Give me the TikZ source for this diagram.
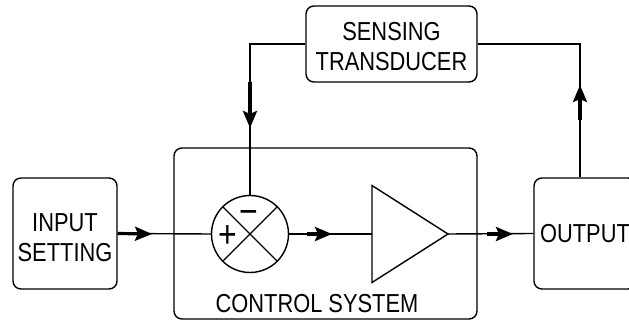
\documentclass[tikz,border=0pt]{standalone}
\usepackage{fontspec}
\setmainfont[FakeStretch=0.84]{Liberation Sans}
\usetikzlibrary{arrows.meta,positioning,shapes.geometric}
\newcommand{\blockfont}{\fontsize{13}{15}\selectfont}
\newcommand{\signfont}{\fontsize{19}{19}\selectfont}
\tikzset{
  wire/.style={line width=0.7pt},
  blockbox/.style={draw, line width=0.7pt, rounded corners=4pt, align=center, inner sep=0pt, font=\blockfont},
  sumnode/.style={draw, circle, line width=0.7pt, minimum size=38.5pt, inner sep=0pt},
  ampnode/.style={draw, isosceles triangle, isosceles triangle stretches, line width=0.7pt,
               minimum width=48.5pt, minimum height=38pt, inner sep=0pt, outer sep=0pt},
  flowtip/.style={-{Stealth[length=8.5pt,width=7pt,inset=1.5pt]}, line width=1.6pt},
  sign/.style={font=\signfont, inner sep=0pt, anchor=base},
  caption/.style={font=\blockfont, inner sep=0pt},
}
\def\yM{234}
\def\yF{44}
\begin{document}
\begin{tikzpicture}[x=0.5pt,y=-0.5pt]
  \useasboundingbox (0,0) rectangle (629,321);
  \node[blockbox, minimum width=52pt, minimum height=55.5pt, text height=28.3pt] (input) at (65,233.5) {INPUT\\SETTING};
  \node[blockbox, minimum width=151.5pt, minimum height=85.5pt] (ctrl) at (325.5,233.5) {};
  \node[blockbox, minimum width=85.5pt, minimum height=38pt, text height=26.8pt] (sense) at (391.5,\yF) {SENSING\\TRANSDUCER};
  \node[blockbox, minimum width=51pt, minimum height=55.5pt] (output) at (585,233.5) {OUTPUT};
  \node[sumnode] (sum) at (250,\yM) {};
  \node[ampnode, anchor=apex] (amp) at (448,\yM) {};
  \node[caption, anchor=base] (ctrltxt) at (317,313) {CONTROL SYSTEM};
  \node[sign] (minus) at (249,225) {−};
  \node[sign] (plus) at (227.5,248) {+};
  \coordinate (fbl) at (250,\yF);
  \coordinate (fbr) at (580,\yF);
  \coordinate (tipin) at (152,\yM);
  \coordinate (startmid) at (307,\yM);
  \coordinate (tipmid) at (332,\yM);
  \coordinate (startout) at (487,\yM);
  \coordinate (tipout) at (513,\yM);
  \coordinate (startup) at (580,120);
  \coordinate (tipup) at (580,85);
  \coordinate (startdown) at (250,82);
  \coordinate (tipdown) at (250,128);
  \draw[wire] (sum.45) -- (sum.225) (sum.135) -- (sum.315);
  \draw[wire] (input.east) -- (sum.west);
  \draw[wire] (sum.east) -- (amp.west);
  \draw[wire] (amp.apex) -- (output.west);
  \draw[wire] (output.north -| fbr) -- (fbr) -- (sense.east);
  \draw[wire] (sense.west) -- (fbl) -- (sum.north);
  \draw[flowtip] (input.east) -- (tipin);
  \draw[flowtip] (startmid) -- (tipmid);
  \draw[flowtip] (startout) -- (tipout);
  \draw[flowtip] (startup) -- (tipup);
  \draw[flowtip] (startdown) -- (tipdown);
\end{tikzpicture}
\end{document}
